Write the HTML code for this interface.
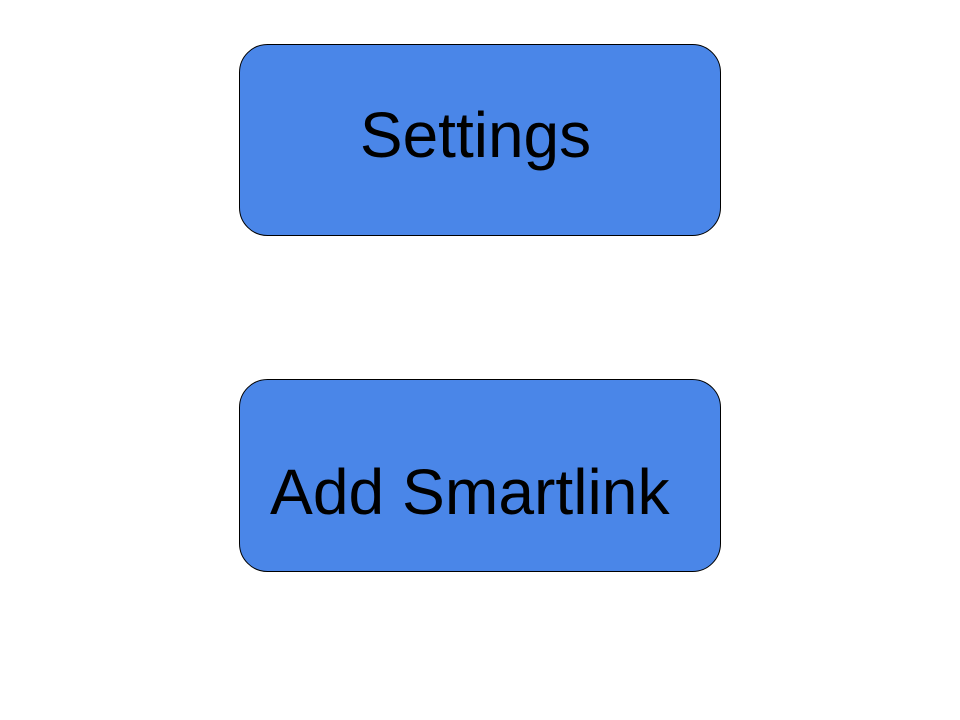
<!DOCTYPE html>
<html><head><meta charset="utf-8"><style>
html,body{margin:0;padding:0;background:#fff;}
svg{display:block;}
</style></head><body>
<svg width="960" height="720" xmlns="http://www.w3.org/2000/svg">
<rect x="239.5" y="44.5" width="481" height="191" rx="28" ry="28" fill="#4a86e8" stroke="#000" stroke-width="1"/>
<rect x="239.5" y="379.5" width="481" height="192" rx="28" ry="28" fill="#4a86e8" stroke="#000" stroke-width="1"/>
<text x="475.5" y="157" text-anchor="middle" font-family="Liberation Sans, Arial, sans-serif" font-size="64" fill="#000">Settings</text>
<text x="270" y="514" font-family="Liberation Sans, Arial, sans-serif" font-size="64.2" fill="#000">Add Smartlink</text>
</svg>
</body></html>
